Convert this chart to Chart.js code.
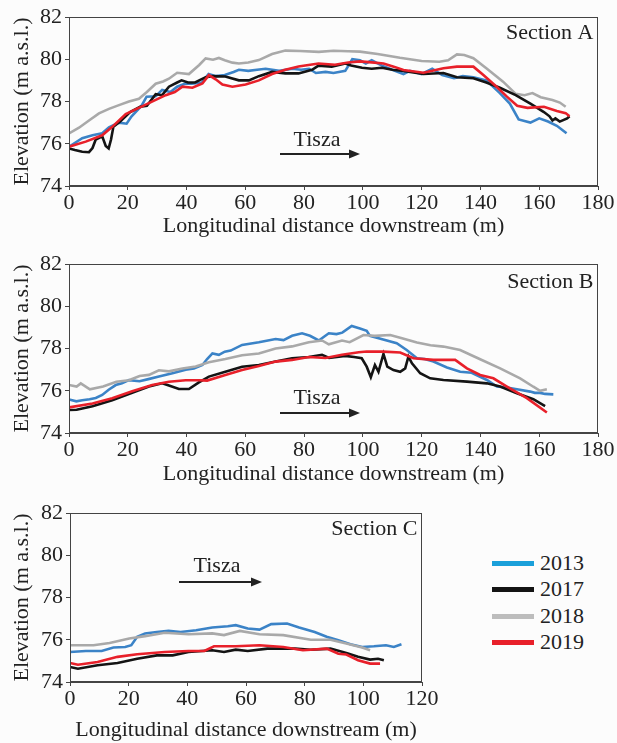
<!DOCTYPE html>
<html lang="en">
<head>
<meta charset="UTF-8">
<title>Longitudinal elevation profiles</title>
<script src="https://cdn.jsdelivr.net/npm/chart.js@4.4.0/dist/chart.umd.min.js"></script>
<style>
  body { margin: 0; background: #fcfcfc; font-family: "Liberation Serif", serif; }
  canvas { position: absolute; left: 0; }
  .leg { position: absolute; left: 492px; height: 26px; line-height: 26px; font-size: 22px; color: #222; }
  .leg .bar { position: absolute; left: 0; top: 11px; width: 42px; height: 5px; }
  .leg .txt { position: absolute; left: 48px; top: 0; white-space: nowrap; }
</style>
</head>
<body>
<canvas id="secA" width="617" height="240" style="top:0px"></canvas>
<canvas id="secB" width="617" height="240" style="top:247px"></canvas>
<canvas id="secC" width="450" height="247" style="top:496px"></canvas>
<div id="legend"></div>
<script>
// survey years and line colours
const years = ['2013', '2017', '2018', '2019'];
const lineColors = ['#3b83c7', '#141414', '#a9a9a9', '#e8202a'];
const legendColors = ['#1ba0da', '#141414', '#bdbdbd', '#e8202a'];

const xTicks = [0, 20, 40, 60, 80, 100, 120, 140, 160, 180];
const yTicks = [74, 76, 78, 80, 82];

// Section A  [distance m, elevation m a.s.l.]
const a2013 = [[0,75.86],[4.5,76.26],[8,76.4],[11.3,76.5],[13.6,76.78],[17,77.0],[19.6,76.95],[21.3,77.3],[24.7,77.8],[26.4,78.23],[29.5,78.25],[31.7,78.55],[34.5,78.45],[36.8,78.7],[39.6,78.85],[41.8,78.84],[45.2,78.9],[47.5,79.3],[50,79.2],[53,79.25],[56,79.4],[57.8,79.5],[61,79.45],[64,79.5],[66.9,79.55],[71.5,79.45],[76,79.55],[79,79.5],[81.7,79.55],[84,79.35],[87.3,79.4],[90,79.35],[94,79.45],[96.4,80.0],[99,79.95],[101,79.8],[103,79.95],[106.5,79.7],[110,79.5],[113.8,79.3],[116,79.45],[120,79.3],[123.6,79.55],[127,79.25],[131,79.1],[134,79.2],[137.6,79.15],[142,79.0],[146.6,78.4],[150,77.9],[153,77.15],[157,77.0],[160,77.2],[163,77.05],[166,76.85],[169.3,76.5]];
const a2017 = [[0,75.78],[2,75.7],[4.5,75.62],[6.8,75.6],[8,75.8],[9.1,76.2],[11.3,76.35],[12.5,75.9],[13.5,75.78],[14.3,76.2],[15.1,76.8],[17.4,77.05],[20.8,77.5],[24.2,77.75],[26.5,77.8],[29.5,78.35],[31.7,78.3],[34,78.7],[36.8,78.9],[38.3,79.0],[40.5,78.9],[42.9,78.9],[46.5,79.15],[48.7,79.2],[53.2,79.18],[57.8,79.0],[61.2,79.0],[64.6,79.2],[69.1,79.4],[73.6,79.33],[78.1,79.33],[82.7,79.5],[84.9,79.7],[89.4,79.65],[94,79.8],[96,79.7],[99.7,79.6],[103,79.55],[106.5,79.6],[110,79.5],[113.8,79.45],[120.6,79.3],[127.4,79.35],[132,79.15],[137.6,79.1],[142,78.9],[146.6,78.65],[152,78.3],[157,77.9],[161.6,77.5],[163.5,77.3],[164.5,77.1],[165.5,77.2],[167,77.05],[169.5,77.2],[170.3,77.3]];
const a2018 = [[0,76.49],[3.4,76.76],[6.8,77.1],[10.2,77.44],[13.6,77.65],[17,77.83],[20.4,78.0],[23.8,78.13],[26.5,78.45],[29.5,78.84],[32,78.95],[34,79.08],[36.8,79.36],[40.8,79.3],[44.3,79.73],[46.5,80.04],[49,79.98],[51,80.06],[53,79.95],[55.6,79.84],[57.8,79.8],[61,79.85],[64.6,79.96],[69.1,80.25],[73.6,80.41],[78.6,80.39],[85,80.35],[90,80.4],[95,80.38],[99,80.36],[105,80.25],[112.6,80.07],[120,79.92],[126,79.88],[129,79.95],[132,80.23],[134.5,80.2],[137.6,80.05],[142,79.57],[147.7,78.94],[152,78.36],[155,78.3],[157.7,78.4],[160.5,78.2],[164.5,78.07],[167,77.95],[169,77.75]];
const a2019 = [[0,75.86],[5.7,76.1],[11.3,76.4],[14.7,76.8],[19.3,77.4],[26.1,77.85],[32.9,78.3],[36,78.45],[38.6,78.7],[42,78.65],[45.4,78.85],[47.6,79.25],[49.9,79.05],[52.2,78.8],[55.6,78.7],[60.1,78.8],[64.6,79.0],[69.1,79.3],[73.6,79.5],[78.1,79.66],[84.9,79.8],[90.5,79.74],[95,79.85],[99,79.9],[103,79.85],[107,79.8],[110.5,79.65],[113.8,79.49],[120.6,79.36],[127.4,79.57],[132,79.65],[137.6,79.65],[141,79.25],[145.5,78.7],[149,78.23],[152.5,77.8],[156,77.7],[161.6,77.75],[166,77.55],[169,77.45],[170.3,77.3]];

// Section B
const b2013 = [[0,75.59],[2.5,75.5],[4.5,75.55],[7,75.6],[9.1,75.66],[11.3,75.8],[13.5,76.05],[15.9,76.27],[18,76.35],[20.4,76.5],[24,76.45],[27,76.55],[30.6,76.67],[35.2,76.83],[39.7,77.0],[42.5,77.05],[45.4,77.22],[47,77.5],[48.8,77.77],[51,77.7],[53,77.85],[55,77.9],[58.9,78.17],[64.6,78.3],[70.3,78.45],[73,78.4],[75.9,78.6],[79.3,78.72],[82,78.6],[85,78.38],[88.4,78.72],[91,78.68],[93,78.75],[96.2,79.07],[99,78.95],[101.3,78.84],[102.4,78.6],[106.9,78.43],[111.5,78.25],[114.9,77.93],[118.4,77.54],[121,77.5],[124,77.38],[128.6,77.1],[133.1,76.9],[137,76.85],[142.2,76.51],[145.6,76.2],[149,76.15],[152.4,76.07],[156.9,75.96],[158.5,75.9],[160.3,75.9],[162,75.85],[164.8,75.83]];
const b2017 = [[0,75.09],[2.6,75.1],[8,75.27],[14.7,75.55],[21.5,75.9],[27.2,76.2],[31.7,76.35],[34,76.25],[37.4,76.08],[40.8,76.08],[44.2,76.4],[47.6,76.67],[53.2,76.9],[58.9,77.14],[64.6,77.22],[70.3,77.38],[75.9,77.54],[81.6,77.6],[86.1,77.7],[88.5,77.55],[93.9,77.65],[97,77.6],[99.6,77.54],[101.3,77.14],[102.7,76.64],[104.1,77.22],[105.3,76.9],[107,77.74],[108.3,77.14],[110.4,76.98],[112.7,76.9],[114.4,77.06],[115.5,77.62],[116.7,77.3],[119.5,76.83],[122.9,76.59],[127.4,76.51],[135.4,76.43],[142.2,76.35],[146.7,76.2],[152.4,75.88],[158,75.6],[162,75.27]];
const b2018 = [[0,76.27],[2.6,76.2],[4,76.35],[7.1,76.07],[11.6,76.2],[16.1,76.43],[20.4,76.5],[24,76.7],[27.2,76.75],[30.6,76.97],[34,76.92],[38.6,77.05],[43.1,77.15],[47.6,77.35],[53.2,77.5],[58.9,77.68],[64.6,77.76],[70.3,78.0],[75.9,78.1],[81.6,78.3],[86.1,78.38],[88.4,78.2],[92.9,78.38],[95.5,78.3],[100.2,78.64],[104,78.6],[109.3,78.64],[113,78.5],[118.4,78.28],[123,78.15],[127.4,78.09],[133.1,77.93],[139.9,77.49],[146.7,77.06],[153.5,76.59],[158,76.19],[160.3,76.0],[162.6,76.07]];
const b2019 = [[0,75.21],[8,75.4],[14.7,75.65],[21.5,75.98],[28.3,76.27],[34,76.43],[39.7,76.5],[44.2,76.5],[47,76.48],[53.2,76.75],[58.9,76.98],[64.6,77.17],[70.3,77.38],[75.9,77.46],[81.6,77.6],[87.3,77.55],[92.9,77.7],[98.6,77.82],[101.3,77.86],[107,77.85],[112.7,77.81],[117.2,77.54],[124,77.46],[131.4,77.46],[135.4,77.06],[139.9,76.75],[144.4,76.59],[149,76.2],[155.8,75.65],[162.6,74.97]];

// Section C
const c2013 = [[0,75.42],[5.4,75.47],[10.8,75.47],[14.8,75.63],[18.8,75.66],[20.9,75.74],[22.9,76.14],[25.6,76.3],[29.6,76.37],[33.6,76.42],[37.7,76.37],[43,76.45],[48.5,76.58],[53.8,76.64],[56.5,76.69],[60.6,76.53],[64.6,76.48],[68.6,76.74],[74,76.77],[78.1,76.58],[83.4,76.37],[87.5,76.14],[91.5,75.98],[95.6,75.79],[99.6,75.66],[103.6,75.69],[107.7,75.74],[110.4,75.66],[113,75.79]];
const c2017 = [[0,74.71],[2.7,74.63],[9.4,74.79],[16.2,74.9],[22.9,75.1],[29.6,75.26],[35,75.26],[40.4,75.42],[48.5,75.5],[52.5,75.42],[56.5,75.53],[60.6,75.47],[67.3,75.58],[76.7,75.58],[82.1,75.53],[88.8,75.58],[94.2,75.37],[98.2,75.19],[102.3,75.06],[105,75.1],[107,75.03]];
const c2018 = [[0,75.74],[8,75.74],[13.5,75.85],[20.2,76.06],[25.6,76.17],[32.3,76.33],[40.4,76.26],[48.5,76.3],[52.5,76.22],[57.9,76.42],[64.6,76.26],[72.7,76.22],[82.1,76.0],[88.8,76.0],[94.2,75.82],[99.6,75.63],[102.3,75.5]];
const c2019 = [[0,74.9],[2.7,74.82],[9.4,74.95],[16.2,75.19],[22.9,75.31],[32.3,75.42],[40.4,75.47],[45.8,75.47],[49.1,75.69],[56.5,75.69],[64.6,75.74],[72.7,75.66],[79.4,75.5],[87.5,75.58],[91.5,75.34],[94.2,75.3],[98.2,75.03],[102.3,74.87],[105.7,74.87]];

const FONT = '"Liberation Serif", "Times New Roman", serif';
const ink = '#222';
const axisCol = '#444';
const drawOrder = [3, 1, 2, 0]; // red on top, blue at the bottom

// frame, section name and the flow arrow
const decor = {
  id: 'decor',
  afterDraw(chart, args, o) {
    const { ctx, chartArea: a } = chart;
    ctx.save();
    ctx.strokeStyle = axisCol;
    ctx.lineWidth = 1;
    ctx.strokeRect(Math.round(a.left) + 0.5, Math.round(a.top) + 0.5,
                   Math.round(a.right - a.left) - 1, Math.round(a.bottom - a.top) - 1);
    ctx.fillStyle = ink;
    ctx.font = '22px ' + FONT;
    ctx.textBaseline = 'middle';
    ctx.textAlign = 'right';
    ctx.fillText(o.section, a.right - 4.5, a.top + o.secY);
    ctx.textAlign = 'center';
    ctx.fillText('Tisza', a.left + o.tx, a.top + o.ty);
    const y = a.top + o.ay, x1 = a.left + o.ax1, x2 = a.left + o.ax2;
    ctx.strokeStyle = ink;
    ctx.lineWidth = 1.8;
    ctx.beginPath();
    ctx.moveTo(x1, y);
    ctx.lineTo(x2 - 8, y);
    ctx.stroke();
    ctx.beginPath();
    ctx.moveTo(x2, y);
    ctx.lineTo(x2 - 11, y - 4.5);
    ctx.lineTo(x2 - 11, y + 4.5);
    ctx.closePath();
    ctx.fill();
    ctx.restore();
  }
};

function makeChart(id, series, xMax, yAxisW, xAxisH, padRight, titlePad, deco) {
  return new Chart(id, {
    type: 'scatter',
    data: {
      datasets: series.map((pts, i) => ({
        label: years[i],
        data: pts.map(p => ({ x: p[0], y: p[1] })),
        showLine: true,
        borderColor: lineColors[i],
        backgroundColor: lineColors[i],
        borderWidth: 2.6,
        pointRadius: 0,
        tension: 0,
        order: drawOrder[i]
      }))
    },
    options: {
      responsive: false,
      animation: false,
      layout: { padding: { top: 17, right: padRight, left: 0, bottom: 0 } },
      plugins: { legend: { display: false }, tooltip: { enabled: false }, decor: deco },
      scales: {
        x: {
          type: 'linear', min: 0, max: xMax,
          ticks: { stepSize: 20, color: ink, font: { family: FONT, size: 22 }, padding: 0, maxRotation: 0,
                   callback: v => xTicks.includes(v) ? v : '' },
          grid: { drawOnChartArea: false, tickLength: 4, color: axisCol },
          border: { color: axisCol },
          title: { display: true, text: 'Longitudinal distance downstream (m)', color: ink,
                   font: { family: FONT, size: 22 }, padding: { top: 0, bottom: titlePad } },
          afterFit: s => { s.height = xAxisH; }
        },
        y: {
          min: 74, max: 82,
          ticks: { stepSize: 1, color: ink, font: { family: FONT, size: 22 }, padding: 3,
                   callback: v => yTicks.includes(v) ? v : '' },
          grid: { drawOnChartArea: false, tickLength: 4, color: axisCol },
          border: { color: axisCol },
          title: { display: true, text: 'Elevation (m a.s.l.)', color: ink,
                   font: { family: FONT, size: 22 }, padding: { top: 9, bottom: 0 } },
          afterFit: s => { s.width = yAxisW; }
        }
      }
    },
    plugins: [decor]
  });
}

makeChart('secA', [a2013, a2017, a2018, a2019], 180, 69, 54, 19, 1,
  { section: 'Section A', secY: 16, tx: 248, ty: 123, ax1: 211, ax2: 291, ay: 137 });
makeChart('secB', [b2013, b2017, b2018, b2019], 180, 69, 54, 19, 0,
  { section: 'Section B', secY: 18, tx: 248, ty: 134, ax1: 211, ax2: 291, ay: 149 });
makeChart('secC', [c2013, c2017, c2018, c2019], 120, 70, 61, 28, 0,
  { section: 'Section C', secY: 16, tx: 147, ty: 53, ax1: 109, ax2: 192, ay: 69 });

// legend
const legendTops = [550, 576, 603, 629];
const legend = document.getElementById('legend');
years.forEach((yr, i) => {
  const row = document.createElement('div');
  row.className = 'leg';
  row.style.top = legendTops[i] + 'px';
  row.innerHTML = '<span class="bar" style="background:' + legendColors[i] + '"></span><span class="txt">' + yr + '</span>';
  legend.appendChild(row);
});
</script>
</body>
</html>
